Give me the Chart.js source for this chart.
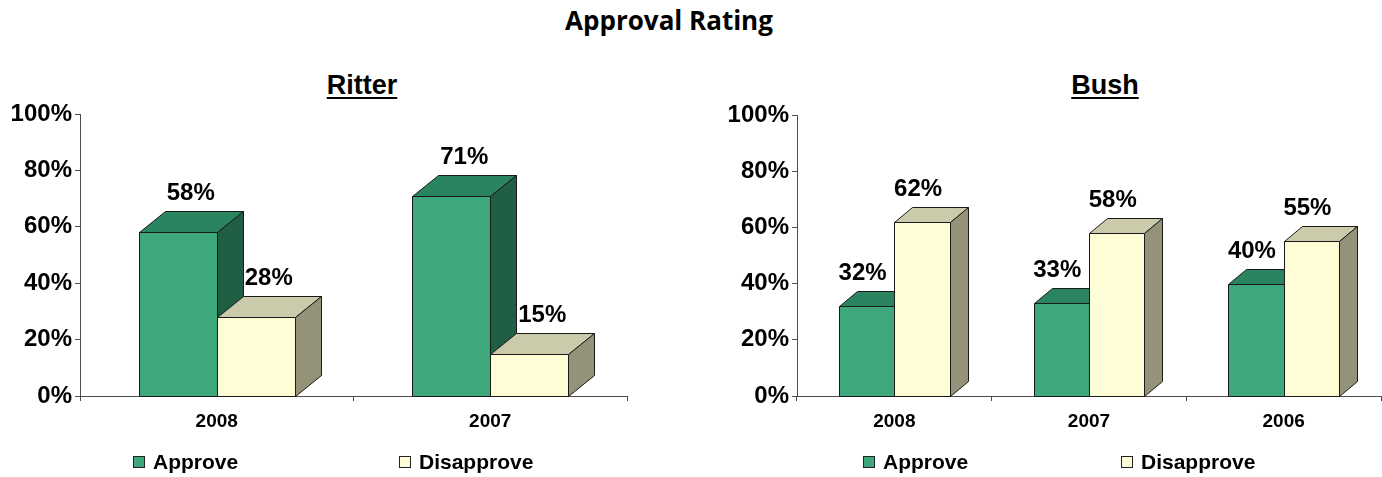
<!DOCTYPE html>
<html>
<head>
<meta charset="utf-8">
<script src="https://cdn.jsdelivr.net/npm/chart.js@4.4.1/dist/chart.umd.min.js"></script>
<style>
  body { margin: 0; width: 1382px; height: 477px; background: #fff; position: relative; overflow: hidden; }
  #title { position: absolute; left: 0; width: 1338px; top: 2px; text-align: center; font: bold 26px "Open Sans", sans-serif; color: #000; }
  .sub { position: absolute; top: 70px; font: bold 27px "Liberation Sans", Arial, sans-serif; text-decoration: underline; text-decoration-thickness: 2px; text-underline-offset: 3px; transform: translateX(-50%); color: #000; }
  canvas { position: absolute; top: 0; }
  .leg { position: absolute; top: 450px; font: bold 21px "Liberation Sans", Arial, sans-serif; color: #000; display: flex; align-items: center; white-space: nowrap; }
  .leg i { width: 10px; height: 10px; border: 1px solid #222; display: inline-block; margin-right: 8px; }
</style>
</head>
<body>
<div id="title">Approval Rating</div>
<div class="sub" style="left:362px">Ritter</div>
<div class="sub" style="left:1105px">Bush</div>
<canvas id="ritter" width="691" height="477" style="left:0"></canvas>
<canvas id="bush" width="691" height="477" style="left:691px"></canvas>
<div id="legends"></div>
<script>
'use strict';
const seriesNames = ['Approve', 'Disapprove'];

const ritterYears = ['2008', '2007'];
const ritterApprove = [58, 71];
const ritterDisapprove = [28, 15];

const bushYears = ['2008', '2007', '2006'];
const bushApprove = [32, 33, 40];
const bushDisapprove = [62, 58, 55];

const faces = [
    { front: '#3ea77b', top: '#2b8460', side: '#215f45' },
    { front: '#fffdd6', top: '#cbcaab', side: '#949379' }
];

function poly(ctx, pts, fill) {
    ctx.beginPath();
    ctx.moveTo(pts[0][0], pts[0][1]);
    for (let k = 1; k < pts.length; k++) ctx.lineTo(pts[k][0], pts[k][1]);
    ctx.closePath();
    ctx.fillStyle = fill;
    ctx.fill();
    ctx.stroke();
}

// draws each bar as a box: front, top and side, category by category
const bars3d = {
    id: 'bars3d',
    afterDatasetsDraw(chart, args, opts) {
        const ctx = chart.ctx;
        const metas = chart.data.datasets.map((d, i) => chart.getDatasetMeta(i));
        const n = chart.data.labels.length;
        ctx.save();
        ctx.lineWidth = 1;
        ctx.strokeStyle = '#1a1a1a';
        const labels = [];
        for (let i = 0; i < n; i++) {
            metas.forEach((meta, di) => {
                const b = meta.data[i].getProps(['x', 'y', 'base', 'width'], true);
                const l = Math.round(b.x - b.width / 2) + 0.5;
                const r = Math.round(b.x + b.width / 2) + 0.5;
                const t = Math.round(b.y) + 0.5;
                const bot = Math.round(b.base) + 0.5;
                const dx = Math.round(b.width / 3);
                const dy = Math.round(b.width * opts.depth);
                const f = faces[di];
                poly(ctx, [[l, t], [r, t], [r, bot], [l, bot]], f.front);
                poly(ctx, [[l, t], [l + dx, t - dy], [r + dx, t - dy], [r, t]], f.top);
                poly(ctx, [[r, t], [r + dx, t - dy], [r + dx, bot - dy], [r, bot]], f.side);
                labels.push({ x: b.x + opts.labelShift, y: t - dy - 18, v: chart.data.datasets[di].data[i] });
            });
        }
        ctx.fillStyle = '#000';
        ctx.font = 'bold 24px "Liberation Sans", Arial, sans-serif';
        ctx.textAlign = 'center';
        ctx.textBaseline = 'middle';
        labels.forEach(p => ctx.fillText(p.v + '%', p.x, p.y));
        ctx.restore();
    }
};

function makeChart(id, years, approve, disapprove, yWidth, topPad, rightPad, labelShift) {
    return new Chart(document.getElementById(id), {
        type: 'bar',
        data: {
            labels: years,
            datasets: [
                { label: seriesNames[0], data: approve, backgroundColor: 'rgba(0,0,0,0)', borderWidth: 0 },
                { label: seriesNames[1], data: disapprove, backgroundColor: 'rgba(0,0,0,0)', borderWidth: 0 }
            ]
        },
        options: {
            responsive: false,
            devicePixelRatio: 1,
            animation: false,
            categoryPercentage: 0.57,
            barPercentage: 1,
            layout: { padding: { top: topPad, right: rightPad, bottom: 0, left: 0 } },
            plugins: {
                legend: { display: false },
                tooltip: { enabled: false },
                bars3d: { depth: 0.27, labelShift: labelShift }
            },
            scales: {
                x: {
                    grid: { offset: true, drawOnChartArea: false, drawTicks: true, tickLength: 5, color: '#4d4d4d' },
                    border: { color: '#4d4d4d', width: 1 },
                    ticks: { color: '#000', padding: 9, font: { family: '"Liberation Sans", Arial', size: 19, weight: 'bold' } },
                    afterFit: s => { s.height = 81; }
                },
                y: {
                    min: 0,
                    max: 100,
                    grid: { drawOnChartArea: false, drawTicks: true, tickLength: 5, color: '#4d4d4d' },
                    border: { color: '#4d4d4d', width: 1 },
                    ticks: {
                        stepSize: 20,
                        padding: 3,
                        color: '#000',
                        font: { family: '"Liberation Sans", Arial', size: 24, weight: 'bold' },
                        callback: v => v + '%'
                    },
                    afterFit: s => { s.width = yWidth; }
                }
            }
        },
        plugins: [bars3d]
    });
}

makeChart('ritter', ritterYears, ritterApprove, ritterDisapprove, 80, 114, 64, 13);
makeChart('bush', bushYears, bushApprove, bushDisapprove, 106, 115, 1, -4);

// legends built from the series names and face colours
const legendSpots = [[133, 399], [863, 1121]];
const legendBox = document.getElementById('legends');
legendSpots.forEach(spots => {
    spots.forEach((x, i) => {
        const d = document.createElement('div');
        d.className = 'leg';
        d.style.left = x + 'px';
        d.innerHTML = '<i style="background:' + faces[i].front + '"></i>' + seriesNames[i];
        legendBox.appendChild(d);
    });
});
</script>
</body>
</html>
